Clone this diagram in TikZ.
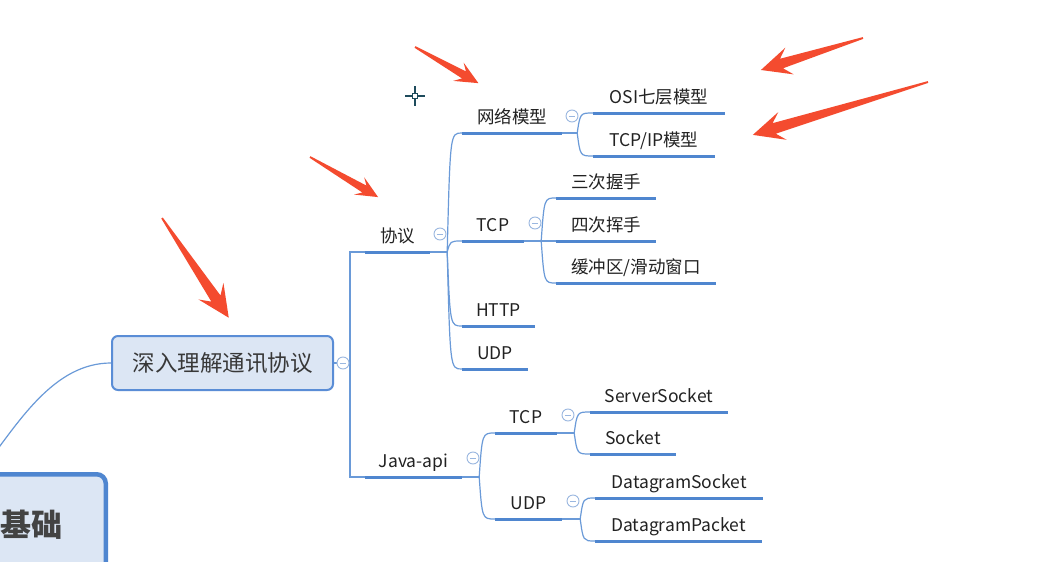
\documentclass[tikz,border=0pt]{standalone}
\usepackage{fontspec}
\setmainfont{Noto Sans CJK SC}
\usetikzlibrary{calc}
\definecolor{ublue}{HTML}{4F86CF}
\definecolor{cblue}{HTML}{6A9AD8}
\definecolor{cblue2}{HTML}{9AB7E0}
\definecolor{textgray}{HTML}{222222}
\definecolor{rootfill}{HTML}{DCE6F4}
\definecolor{rootdraw}{HTML}{5A8DD6}
\definecolor{bigdraw}{HTML}{4F86D0}
\definecolor{arrowred}{HTML}{F44B2F}
\definecolor{cursorc}{HTML}{1E4B5C}
\newcommand\branch[2]{\draw[conn] (#1) .. controls ($(#1 |- #2)+(3,0)$) and ($(#1 |- #2)+(3,0)$) .. (#2);}
\newcommand\redarrow[7]{\fill[arrowred,shift={(#1,#2)},rotate=#3] (0,-0.9) -- (#4-#5*0.72,-#7) -- (#4-#5,-#6) -- (#4,0) -- (#4-#5,#6) -- (#4-#5*0.72,#7) -- (0,0.9) -- cycle;}
\begin{document}
\begin{tikzpicture}[x=1pt,y=-1pt,
  topic/.style={inner xsep=0pt, inner ysep=0pt, text height=13pt, text depth=9pt, anchor=south,
    font=\fontsize{17.5}{17.5}\selectfont, text=textgray},
  uline/.style={line width=3pt, draw=ublue},
  conn/.style={line width=1.2pt, draw=cblue},
  collapse/.style={circle, draw=cblue2, fill=white, line width=0.9pt, minimum size=12pt, inner sep=0pt,
    path picture={\draw[cblue2, line width=0.9pt] ([xshift=-3.2pt]path picture bounding box.center) -- ([xshift=3.2pt]path picture bounding box.center);}},
  rootbox/.style={draw=rootdraw, fill=rootfill, line width=2pt, rounded corners=6pt, minimum width=221pt,
    minimum height=54pt, inner sep=0pt, font=\fontsize{22.5}{22.5}\selectfont, text=textgray!90},
  bignode/.style={draw=bigdraw, fill=rootfill, line width=4.5pt, rounded corners=9pt, inner ysep=0pt,
    font=\fontsize{31}{31}\selectfont\bfseries, text=textgray!85}
]
\useasboundingbox (0,0) rectangle (1052,562);
\clip (0,0) rectangle (1052,562);
\fill[white] (0,0) rectangle (1052,562);

% big node and root
\node[bignode, anchor=north east, minimum width=300pt, minimum height=100pt, text width=214pt, align=right, inner xsep=43pt] (base) at (108,472) {基础};
\node[rootbox] (root) at (222.5,363) {深入理解通讯协议};
\coordinate (bigin) at (-12,462);
\draw[conn] (root.west) .. controls (55,363) and (20,420) .. (bigin);

% topics
\node[topic, minimum width=65pt] (xieyi) at (397.5,252) {协议};
\node[topic, minimum width=97pt] (java) at (413.5,477) {Java-api};
\node[topic, minimum width=100pt] (wlmx) at (512,133) {网络模型};
\node[topic, minimum width=62pt] (tcpa) at (493,241) {TCP};
\node[topic, minimum width=73pt] (http) at (498.5,326) {HTTP};
\node[topic, minimum width=66pt] (udpa) at (495,369) {UDP};
\node[topic, minimum width=132pt] (osi) at (659,113) {OSI七层模型};
\node[topic, minimum width=122pt] (tcpip) at (654,156) {TCP/IP模型};
\node[topic, minimum width=100pt] (sanci) at (606,198) {三次握手};
\node[topic, minimum width=100pt] (sici) at (606,241) {四次挥手};
\node[topic, minimum width=160pt] (huan) at (636,283) {缓冲区/滑动窗口};
\node[topic, minimum width=62pt] (tcpb) at (526,433) {TCP};
\node[topic, minimum width=67pt] (udpb) at (528.5,519) {UDP};
\node[topic, minimum width=138pt] (ss) at (659,412) {ServerSocket};
\node[topic, minimum width=86pt] (sock) at (633,454) {Socket};
\node[topic, minimum width=168pt] (ds) at (679,498) {DatagramSocket};
\node[topic, minimum width=167pt] (dp) at (678.5,541) {DatagramPacket};

\foreach \n in {xieyi,java,wlmx,tcpa,http,udpa,osi,tcpip,sanci,sici,huan,tcpb,udpb,ss,sock,ds,dp}
  \draw[uline] (\n.south west) -- (\n.south east);

% root bracket
\coordinate (rb) at (350,363);
\draw[conn] (root.east) -- (rb);
\draw[conn] (rb) |- (xieyi.south west);
\draw[conn] (rb) |- (java.south west);

% forks
\coordinate (f1) at ([xshift=17pt]xieyi.south east);
\coordinate (f2) at ([xshift=15pt]wlmx.south east);
\coordinate (f3) at ([xshift=17pt]tcpa.south east);
\coordinate (f4) at ([xshift=17pt]java.south east);
\coordinate (f5) at ([xshift=17pt]tcpb.south east);
\coordinate (f6) at ([xshift=18pt]udpb.south east);
\draw[conn] (xieyi.south east) -- (f1);
\draw[conn] (wlmx.south east) -- (f2);
\draw[conn] (tcpa.south east) -- (f3);
\draw[conn] (java.south east) -- (f4);
\draw[conn] (tcpb.south east) -- (f5);
\draw[conn] (udpb.south east) -- (f6);

\branch{f1}{wlmx.south west}
\branch{f1}{tcpa.south west}
\branch{f1}{http.south west}
\branch{f1}{udpa.south west}
\branch{f2}{osi.south west}
\branch{f2}{tcpip.south west}
\branch{f3}{sanci.south west}
\branch{f3}{sici.south west}
\branch{f3}{huan.south west}
\branch{f4}{tcpb.south west}
\branch{f4}{udpb.south west}
\branch{f5}{ss.south west}
\branch{f5}{sock.south west}
\branch{f6}{ds.south west}
\branch{f6}{dp.south west}

% collapse markers
\node[collapse] (croot) at (343,363) {};
\node[collapse] (cxieyi) at (440,234) {};
\node[collapse] (cwlmx) at (572,116) {};
\node[collapse] (ctcpa) at (535,223) {};
\node[collapse] (cjava) at (473,458) {};
\node[collapse] (ctcpb) at (568,415) {};
\node[collapse] (cudpb) at (573,501) {};

% cursor
\draw[cursorc, line width=1.2pt] (415,86) -- (415,106) (405,96) -- (425,96);
\draw[cursorc, line width=1.1pt, fill=white] (412.5,93.5) rectangle (417.5,98.5);

% red annotation arrows
\redarrow{162}{218}{-56.2}{120}{32}{15}{5.5}
\redarrow{310}{157}{-30.5}{79}{22}{10}{4}
\redarrow{415}{47}{-29.7}{73}{23}{10.5}{4}
\redarrow{863}{38}{-162.6}{107}{30}{14}{5}
\redarrow{928}{82}{-163.2}{183}{31}{14.5}{5.5}
\end{tikzpicture}
\end{document}
